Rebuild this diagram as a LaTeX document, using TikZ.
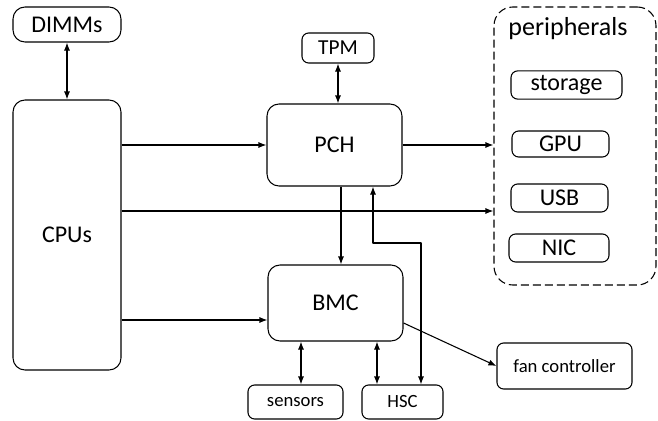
\documentclass[tikz,border=0pt]{standalone}
\usepackage{fontspec}
\setmainfont{Carlito}
\usetikzlibrary{arrows.meta}
\tikzset{
  blk/.style  = {draw, line width=.8pt, rounded corners=9pt, align=center, font=\fontsize{18}{20}\selectfont},
  sblk/.style = {draw, line width=.8pt, rounded corners=5pt, align=center, font=\fontsize{14}{16}\selectfont},
  pblk/.style = {draw, line width=.8pt, rounded corners=5pt, align=center, font=\fontsize{18}{20}\selectfont},
  link/.style = {line width=.8pt},
}
\begin{document}
\begin{tikzpicture}[line join = round, >={Latex[length=6pt,width=4.5pt]}, x=.75pt, y=-.75pt]
\useasboundingbox (0,0) rectangle (658,421);
%Các khối chính
\node[blk, minimum width=81pt, minimum height=26.25pt] (dimm) at (67,24.5) {DIMMs};
\node[blk, minimum width=81pt, minimum height=202.5pt] (cpu) at (67,235) {CPUs};
\node[sblk, minimum width=54pt, minimum height=22.5pt, font=\fontsize{16}{18}\selectfont] (tpm) at (338,48) {TPM};
\node[blk, minimum width=101.25pt, minimum height=61.5pt] (pch) at (334.5,145) {PCH};
\node[blk, minimum width=101.25pt, minimum height=57pt] (bmc) at (335.5,303) {BMC};
\node[sblk, minimum width=71.25pt, minimum height=25.5pt] (sensor) at (295.5,402) {sensors};
\node[sblk, minimum width=60.75pt, minimum height=25.5pt] (hsc) at (402.5,402) {HSC};
\node[sblk, minimum width=101.25pt, minimum height=34.5pt] (fan) at (564.5,366) {fan controller};
%Khối ngoại vi
\node[draw, dash pattern=on 6pt off 3pt, line width=.8pt, rounded corners=14pt, minimum width=121.5pt, minimum height=208.5pt] (per) at (575,146) {};
\node[font=\fontsize{19.5}{22}\selectfont] (perlbl) at (568,29) {peripherals};
\node[pblk, minimum width=83.25pt, minimum height=21pt] (stor) at (566.5,85) {storage};
\node[pblk, minimum width=72.75pt, minimum height=19.5pt] (gpu) at (560.5,144) {GPU};
\node[pblk, minimum width=72.75pt, minimum height=21pt] (usb) at (559.5,198) {USB};
\node[pblk, minimum width=75pt, minimum height=21pt] (nic) at (559,248) {NIC};
%Các điểm phụ
\coordinate (busy) at (0,211);
\coordinate (bmcy) at (0,320);
\coordinate (pchx) at (341,0);
\coordinate (tpmx) at (338,0);
\coordinate (senx) at (301,0);
\coordinate (hscx) at (377,0);
\coordinate (upx) at (373,0);
\coordinate (dnx) at (421,0);
\coordinate (turn) at (421,243);
%Các đường nối
\draw[link, <->] (dimm) -- (cpu);
\draw[link, <->] (tpm.south -| tpmx) -- (pch.north -| tpmx);
\draw[link, ->] (cpu.east |- pch) -- (pch.west);
\draw[link, ->] (pch.east) -- (per.west |- pch.east);
\draw[link, ->] (cpu.east |- busy) -- (per.west |- busy);
\draw[link, ->] (cpu.east |- bmcy) -- (bmc.west |- bmcy);
\draw[link, ->] (pch.south -| pchx) -- (bmc.north -| pchx);
\draw[link, <->] (bmc.south -| senx) -- (sensor.north -| senx);
\draw[link, <->] (bmc.south -| hscx) -- (hsc.north -| hscx);
\draw[link, <->] (hsc.north -| dnx) -- (turn) -| (pch.south -| upx);
\draw[link, ->] ([yshift=-15pt]bmc.east) -- (fan.west);
\end{tikzpicture}
\end{document}
